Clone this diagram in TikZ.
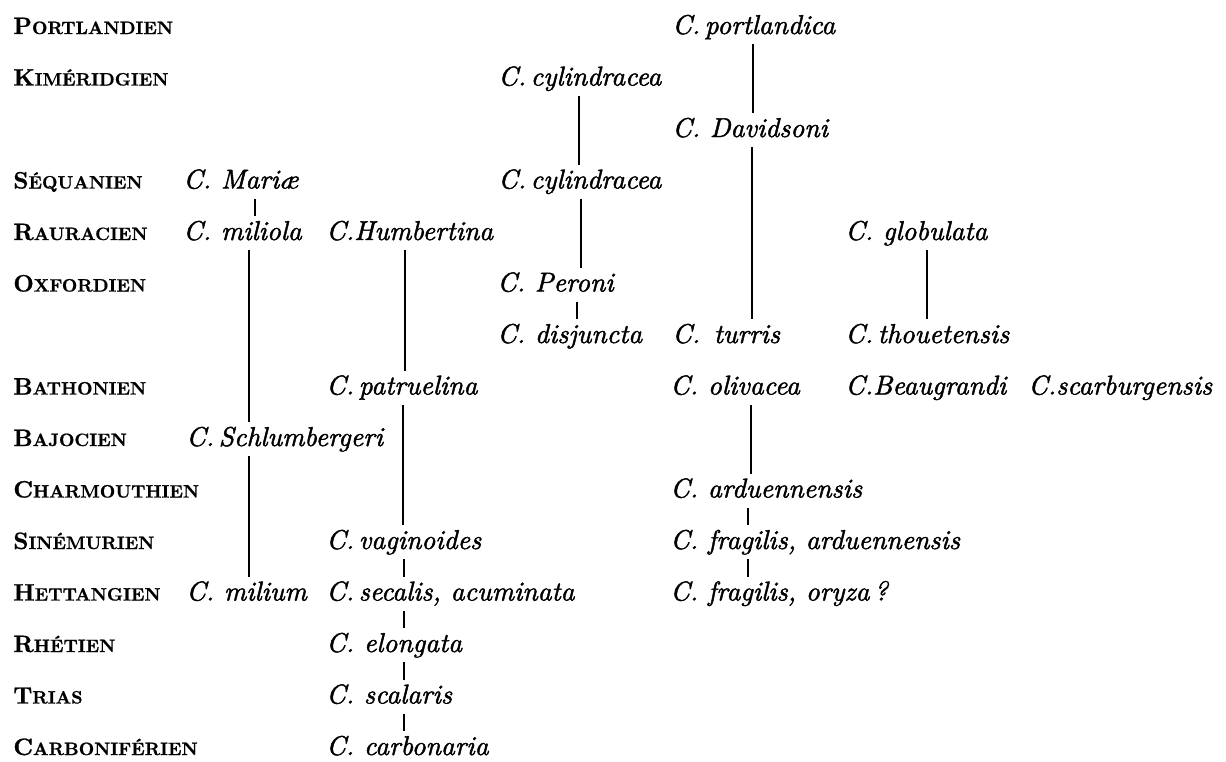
\documentclass[tikz,border=0pt]{standalone}
\usepackage{tikz}
\usetikzlibrary{positioning}
\font\spfont="[lmroman10-italic]:embolden=1.6;+tlig" at 15.5pt
\font\stbig="[lmroman10-bold]:embolden=0.8;+tlig" at 13.5pt
\font\stsmall="[lmroman10-bold]:embolden=0.8;+tlig" at 10.2pt
\newcommand\stagename[2]{{\stbig #1\stsmall #2}}
\tikzset{
  stage/.style={anchor=base west,inner sep=0pt},
  species/.style={anchor=base west,inner xsep=0pt,inner ysep=1.7pt,
    text height=11.6pt,text depth=3.9pt,font=\spfont},
  link/.style={draw=black,line width=0.8pt},
}
\begin{document}
\begin{tikzpicture}[x=0.02cm,y=-0.02cm]
  \useasboundingbox (0,0) rectangle (1226,761);
  % stages, one row every 51.5
  \foreach \n/\a/\b in {0/P/ORTLANDIEN,1/K/IMÉRIDGIEN,3/S/ÉQUANIEN,4/R/AURACIEN,
      5/O/XFORDIEN,7/B/ATHONIEN,8/B/AJOCIEN,9/C/HARMOUTHIEN,10/S/INÉMURIEN,
      11/H/ETTANGIEN,12/R/HÉTIEN,13/T/RIAS,14/C/ARBONIFÉRIEN}
    \node[stage] (st\n) at (13,{34+51.5*\n}) {\stagename{\a}{\b}};
  % species
  \node[species] (portlandica) at (672,34) {C.\,portlandica};
  \node[species] (cylindraceaA) at (498,85.5) {C.\,cylindracea};
  \node[species] (davidsoni) at (672,137) {C. Davidsoni};
  \node[species] (mariae) at (183,188.5) {C. Mariæ};
  \node[species] (cylindraceaB) at (498,188.5) {C.\,cylindracea};
  \node[species] (miliola) at (183,240) {C. miliola};
  \node[species] (humbertina) at (326,240) {C.Humbertina};
  \node[species] (globulata) at (845,240) {C. globulata};
  \node[species] (peroni) at (497,291.5) {C. Peroni};
  \node[species] (disjuncta) at (497,343) {C. disjuncta};
  \node[species] (turris) at (672,343) {C.\enspace turris};
  \node[species] (thouetensis) at (845,343) {C.\,thouetensis};
  \node[species] (patruelina) at (326,394.5) {C.\,patruelina};
  \node[species] (olivacea) at (670,394.5) {C. olivacea};
  \node[species] (beaugrandi) at (845,394.5) {C.Beaugrandi};
  \node[species] (scarburgensis) at (1028,394.5) {C.scarburgensis};
  \node[species] (schlumbergeri) at (186,446) {C.\,Schlumbergeri};
  \node[species] (arduennensis) at (670,497.5) {C. arduennensis};
  \node[species] (vaginoides) at (326,549) {C.\,vaginoides};
  \node[species] (fragilisA) at (670,549) {C. fragilis, arduennensis};
  \node[species] (milium) at (186,600.5) {C. milium};
  \node[species] (secalis) at (326,600.5) {C.\,secalis, acuminata};
  \node[species] (fragilisB) at (670,600.5) {C. fragilis, oryza\,?};
  \node[species] (elongata) at (326,652) {C. elongata};
  \node[species] (scalaris) at (326,703.5) {C. scalaris};
  \node[species] (carbonaria) at (326,755) {C. carbonaria};
  % descent lines
  \foreach \a/\b/\x in {mariae/miliola/255,miliola/schlumbergeri/249,
      schlumbergeri/milium/249,humbertina/patruelina/405,patruelina/vaginoides/403,
      vaginoides/secalis/404,secalis/elongata/404,elongata/scalaris/404,
      scalaris/carbonaria/404,cylindraceaA/cylindraceaB/579,cylindraceaB/peroni/581,
      peroni/disjuncta/577,portlandica/davidsoni/753,davidsoni/turris/752,
      olivacea/arduennensis/751,arduennensis/fragilisA/748,fragilisA/fragilisB/748,
      globulata/thouetensis/927}
    \draw[link] (\a.south -| \x,0) -- (\b.north -| \x,0);
\end{tikzpicture}
\end{document}
